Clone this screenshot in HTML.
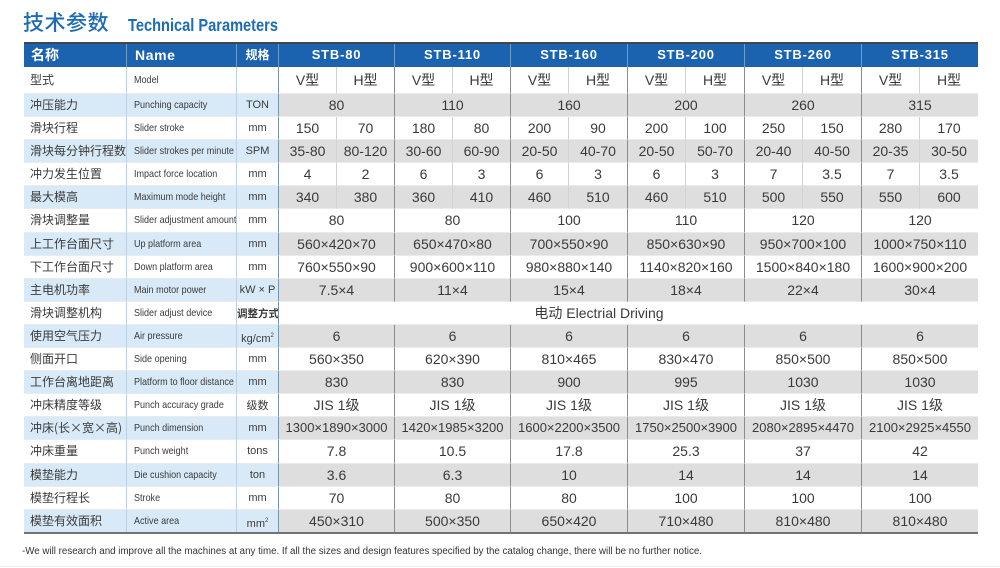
<!DOCTYPE html>
<html><head><meta charset="utf-8">
<style>
*{margin:0;padding:0;box-sizing:border-box}
body{width:1000px;height:568px;background:#fff;position:relative;overflow:hidden;font-family:"Liberation Sans","Noto Sans CJK SC",sans-serif;color:#3a3a3a}
.t1{position:absolute;left:23px;top:7px;font-size:21px;line-height:30px;color:#1d6cb4;font-family:"Noto Sans CJK SC",sans-serif;font-weight:500;letter-spacing:0.5px;white-space:nowrap}
.t2{position:absolute;left:128px;top:13px;font-size:17.5px;line-height:24px;font-weight:bold;color:#1d6cb4;transform:scaleX(.835);transform-origin:0 0;white-space:nowrap}
.tb{position:absolute;left:24px;top:42px;width:954px}
.r{display:flex;height:23.1px}
.r>div{flex:none;height:100%;white-space:nowrap;overflow:hidden;border-bottom:1px solid #ebebeb}
.a{width:103px;padding-left:6px;font-size:12px;line-height:22px;border-right:1px solid #bcd0e2;font-family:"Noto Sans CJK SC",sans-serif}
.b{width:110px;padding-left:7px;border-right:1px solid #bcd0e2;font-size:10.5px;line-height:22px}
.b span{display:inline-block;transform:scaleX(.86);transform-origin:0 50%}
.c{width:42px;text-align:center;font-size:11px;line-height:23px;border-right:1px solid #7d93aa}
.c sup{font-size:6px;vertical-align:5px}
.d{text-align:center;font-size:14px;line-height:22px}
.w58{width:58px}.w59{width:59px}.w116{width:116px}.w117{width:117px}.w699{width:699px}
.v{border-right:1px solid #d2d2d2}
.e{border-right:1px solid #8c8c8c}
.o .a,.o .b,.o .c{background:#d8eaf7}
.o .d{background:#dedede}
.r.h{height:25px;background:#1b63ae;border-top:2px solid #3e4650;color:#fff;font-weight:bold}
.r.h>div{border-right:1px solid #6e9ccf;line-height:22px;border-bottom:none;background:#1b63ae}
.r.h>div:last-child{border-right:none}
.h .a{font-size:14px;padding-left:7px}
.h .b{font-size:14px;padding-left:8px;letter-spacing:.6px}
.h .c{font-size:12px;font-family:"Noto Sans CJK SC",sans-serif}
.h .g{font-size:13px;letter-spacing:.8px;text-align:center}
.r.m{height:27px}
.r.m>div{line-height:26px}
.small{font-size:13px}
.bl{position:absolute;left:24px;top:532px;width:954px;height:2px;background:#737373}
.ft{position:absolute;left:22px;top:545px;font-size:10px;line-height:14px;color:#333;transform:scaleX(.975);transform-origin:0 0;white-space:nowrap}
.fl{position:absolute;left:0;top:566px;width:1000px;height:1px;background:#efefef}
</style></head><body>
<div class="t1">技术参数</div>
<div class="t2">Technical Parameters</div>
<div class="tb">
<div class="r h"><div class="a">名称</div><div class="b">Name</div><div class="c">规格</div><div class="g w116">STB-80</div><div class="g w116">STB-110</div><div class="g w117">STB-160</div><div class="g w117">STB-200</div><div class="g w117">STB-260</div><div class="g w116">STB-315</div></div>

<div class="r m"><div class="a">型式</div><div class="b"><span>Model</span></div><div class="c"></div>
<div class="d w58 v">V型</div><div class="d w58 e">H型</div><div class="d w58 v">V型</div><div class="d w58 e">H型</div><div class="d w58 v">V型</div><div class="d w59 e">H型</div><div class="d w58 v">V型</div><div class="d w59 e">H型</div><div class="d w58 v">V型</div><div class="d w59 e">H型</div><div class="d w58 v">V型</div><div class="d w58">H型</div></div>

<div class="r o"><div class="a">冲压能力</div><div class="b"><span>Punching capacity</span></div><div class="c">TON</div>
<div class="d w116 e">80</div><div class="d w116 e">110</div><div class="d w117 e">160</div><div class="d w117 e">200</div><div class="d w117 e">260</div><div class="d w116">315</div></div>

<div class="r"><div class="a">滑块行程</div><div class="b"><span>Slider stroke</span></div><div class="c">mm</div>
<div class="d w58 v">150</div><div class="d w58 e">70</div><div class="d w58 v">180</div><div class="d w58 e">80</div><div class="d w58 v">200</div><div class="d w59 e">90</div><div class="d w58 v">200</div><div class="d w59 e">100</div><div class="d w58 v">250</div><div class="d w59 e">150</div><div class="d w58 v">280</div><div class="d w58">170</div></div>

<div class="r o"><div class="a">滑块每分钟行程数</div><div class="b"><span>Slider strokes per minute</span></div><div class="c">SPM</div>
<div class="d w58 v">35-80</div><div class="d w58 e">80-120</div><div class="d w58 v">30-60</div><div class="d w58 e">60-90</div><div class="d w58 v">20-50</div><div class="d w59 e">40-70</div><div class="d w58 v">20-50</div><div class="d w59 e">50-70</div><div class="d w58 v">20-40</div><div class="d w59 e">40-50</div><div class="d w58 v">20-35</div><div class="d w58">30-50</div></div>

<div class="r"><div class="a">冲力发生位置</div><div class="b"><span>Impact force location</span></div><div class="c">mm</div>
<div class="d w58 v">4</div><div class="d w58 e">2</div><div class="d w58 v">6</div><div class="d w58 e">3</div><div class="d w58 v">6</div><div class="d w59 e">3</div><div class="d w58 v">6</div><div class="d w59 e">3</div><div class="d w58 v">7</div><div class="d w59 e">3.5</div><div class="d w58 v">7</div><div class="d w58">3.5</div></div>

<div class="r o"><div class="a">最大模高</div><div class="b"><span>Maximum mode height</span></div><div class="c">mm</div>
<div class="d w58 v">340</div><div class="d w58 e">380</div><div class="d w58 v">360</div><div class="d w58 e">410</div><div class="d w58 v">460</div><div class="d w59 e">510</div><div class="d w58 v">460</div><div class="d w59 e">510</div><div class="d w58 v">500</div><div class="d w59 e">550</div><div class="d w58 v">550</div><div class="d w58">600</div></div>

<div class="r"><div class="a">滑块调整量</div><div class="b"><span>Slider adjustment amount</span></div><div class="c">mm</div>
<div class="d w116 e">80</div><div class="d w116 e">80</div><div class="d w117 e">100</div><div class="d w117 e">110</div><div class="d w117 e">120</div><div class="d w116">120</div></div>

<div class="r o"><div class="a">上工作台面尺寸</div><div class="b"><span>Up platform area</span></div><div class="c">mm</div>
<div class="d w116 e">560×420×70</div><div class="d w116 e">650×470×80</div><div class="d w117 e">700×550×90</div><div class="d w117 e">850×630×90</div><div class="d w117 e">950×700×100</div><div class="d w116">1000×750×110</div></div>

<div class="r"><div class="a">下工作台面尺寸</div><div class="b"><span>Down platform area</span></div><div class="c">mm</div>
<div class="d w116 e">760×550×90</div><div class="d w116 e">900×600×110</div><div class="d w117 e">980×880×140</div><div class="d w117 e">1140×820×160</div><div class="d w117 e">1500×840×180</div><div class="d w116">1600×900×200</div></div>

<div class="r o"><div class="a">主电机功率</div><div class="b"><span>Main motor power</span></div><div class="c">kW × P</div>
<div class="d w116 e">7.5×4</div><div class="d w116 e">11×4</div><div class="d w117 e">15×4</div><div class="d w117 e">18×4</div><div class="d w117 e">22×4</div><div class="d w116">30×4</div></div>

<div class="r"><div class="a">滑块调整机构</div><div class="b"><span>Slider adjust device</span></div><div class="c" style="font-family:'Noto Sans CJK SC',sans-serif;font-weight:bold;font-size:10.5px">调整方式</div>
<div class="d w699" style="padding-right:59px">电动 Electrial Driving</div></div>

<div class="r o"><div class="a">使用空气压力</div><div class="b"><span>Air pressure</span></div><div class="c">kg/cm<sup>2</sup></div>
<div class="d w116 e">6</div><div class="d w116 e">6</div><div class="d w117 e">6</div><div class="d w117 e">6</div><div class="d w117 e">6</div><div class="d w116">6</div></div>

<div class="r"><div class="a">侧面开口</div><div class="b"><span>Side opening</span></div><div class="c">mm</div>
<div class="d w116 e">560×350</div><div class="d w116 e">620×390</div><div class="d w117 e">810×465</div><div class="d w117 e">830×470</div><div class="d w117 e">850×500</div><div class="d w116">850×500</div></div>

<div class="r o"><div class="a">工作台离地距离</div><div class="b"><span>Platform to floor distance</span></div><div class="c">mm</div>
<div class="d w116 e">830</div><div class="d w116 e">830</div><div class="d w117 e">900</div><div class="d w117 e">995</div><div class="d w117 e">1030</div><div class="d w116">1030</div></div>

<div class="r"><div class="a">冲床精度等级</div><div class="b"><span>Punch accuracy grade</span></div><div class="c" style="font-family:'Noto Sans CJK SC',sans-serif">级数</div>
<div class="d w116 e">JIS 1级</div><div class="d w116 e">JIS 1级</div><div class="d w117 e">JIS 1级</div><div class="d w117 e">JIS 1级</div><div class="d w117 e">JIS 1级</div><div class="d w116">JIS 1级</div></div>

<div class="r o"><div class="a">冲床(长×宽×高)</div><div class="b"><span>Punch dimension</span></div><div class="c">mm</div>
<div class="d small w116 e">1300×1890×3000</div><div class="d small w116 e">1420×1985×3200</div><div class="d small w117 e">1600×2200×3500</div><div class="d small w117 e">1750×2500×3900</div><div class="d small w117 e">2080×2895×4470</div><div class="d small w116">2100×2925×4550</div></div>

<div class="r"><div class="a">冲床重量</div><div class="b"><span>Punch weight</span></div><div class="c">tons</div>
<div class="d w116 e">7.8</div><div class="d w116 e">10.5</div><div class="d w117 e">17.8</div><div class="d w117 e">25.3</div><div class="d w117 e">37</div><div class="d w116">42</div></div>

<div class="r o"><div class="a">模垫能力</div><div class="b"><span>Die cushion capacity</span></div><div class="c">ton</div>
<div class="d w116 e">3.6</div><div class="d w116 e">6.3</div><div class="d w117 e">10</div><div class="d w117 e">14</div><div class="d w117 e">14</div><div class="d w116">14</div></div>

<div class="r"><div class="a">模垫行程长</div><div class="b"><span>Stroke</span></div><div class="c">mm</div>
<div class="d w116 e">70</div><div class="d w116 e">80</div><div class="d w117 e">80</div><div class="d w117 e">100</div><div class="d w117 e">100</div><div class="d w116">100</div></div>

<div class="r o"><div class="a">模垫有效面积</div><div class="b"><span>Active area</span></div><div class="c">mm<sup>2</sup></div>
<div class="d w116 e">450×310</div><div class="d w116 e">500×350</div><div class="d w117 e">650×420</div><div class="d w117 e">710×480</div><div class="d w117 e">810×480</div><div class="d w116">810×480</div></div>
</div>
<div class="bl"></div>
<div class="ft">-We will research and improve all the machines at any time. If all the sizes and design features specified by the catalog change, there will be no further notice.</div>
<div class="fl"></div>
</body></html>
